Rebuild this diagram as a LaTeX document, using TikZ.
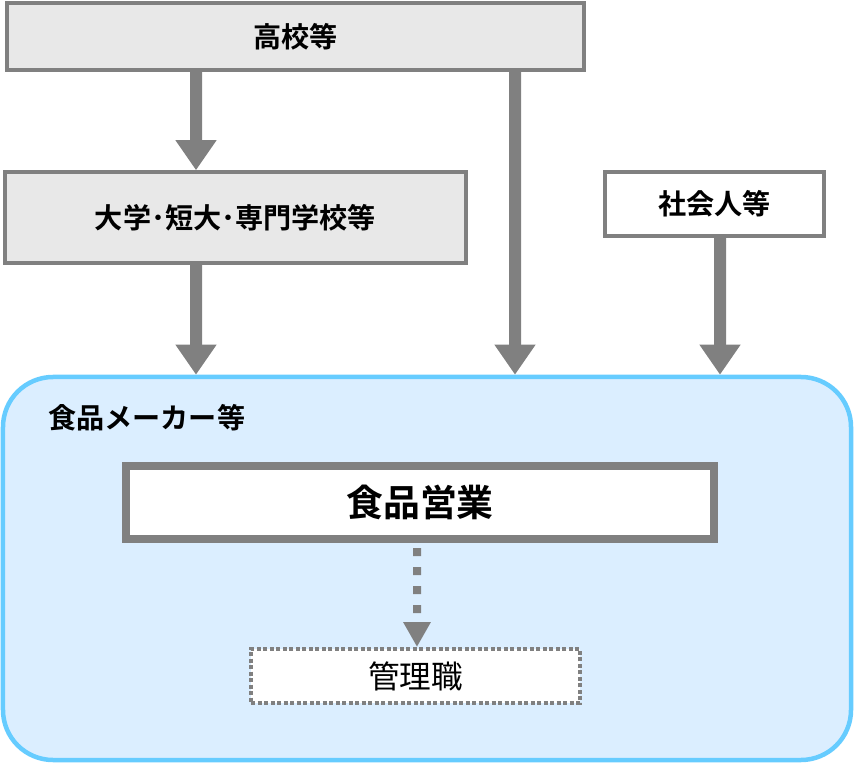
\documentclass[tikz,border=0pt]{standalone}
\usepackage{fontspec}
\setmainfont{Noto Sans CJK JP}[BoldFont={Noto Sans CJK JP Bold}]
\usepackage{tikz}
\usetikzlibrary{arrows.meta,positioning,calc}
\definecolor{boxgray}{RGB}{128,128,128}
\definecolor{boxfill}{RGB}{232,232,232}
\definecolor{makerblue}{RGB}{102,204,255}
\definecolor{makerfill}{RGB}{219,238,255}

\begin{document}
\begin{tikzpicture}[
    school/.style={rectangle, draw=boxgray, line width=0.07cm, fill=boxfill, font=\fontsize{16}{18}\selectfont\bfseries},
    plain/.style={rectangle, draw=boxgray, line width=0.07cm, fill=white, font=\fontsize{16}{18}\selectfont\bfseries},
    flow/.style={draw=boxgray, line width=0.24cm, -{Triangle[width=0.78cm,length=0.6cm]}},
    stepflow/.style={draw=boxgray, line width=0.16cm, dash pattern=on 0.16cm off 0.22cm, -{Triangle[width=0.52cm,length=0.5cm]}}
]
\useasboundingbox (0,0) rectangle (17.12,-15.28);
% Nodes
\node[school, minimum width=11.54cm, minimum height=1.34cm] (koukou) at (5.91, -0.73) {高校等};
\node[school, minimum width=9.22cm, minimum height=1.82cm] (daigaku) at (4.71, -4.35) {大学･短大･専門学校等};
\node[plain, minimum width=4.38cm, minimum height=1.28cm] (shakai) at (14.29, -4.08) {社会人等};
\node[rectangle, rounded corners=1cm, draw=makerblue, line width=0.09cm, fill=makerfill, minimum width=16.96cm, minimum height=7.66cm] (maker) at (8.54, -11.37) {};
\node[anchor=west, inner sep=0pt, font=\fontsize{16}{18}\selectfont\bfseries] (makerlabel) at (0.96, -8.36) {食品メーカー等};
\node[rectangle, draw=boxgray, line width=0.16cm, fill=white, minimum width=11.76cm, minimum height=1.46cm, font=\fontsize{21}{24}\selectfont\bfseries] (eigyou) at (8.40, -10.05) {食品営業};
\node[rectangle, draw=boxgray, line width=0.08cm, dash pattern=on 0.08cm off 0.05cm, fill=white, minimum width=6.58cm, minimum height=1.08cm, font=\fontsize{18}{20}\selectfont] (kanri) at (8.31, -13.52) {管理職};

% Edges
\draw[flow] ([xshift=-1.99cm]koukou.south) -- ([xshift=-0.79cm]daigaku.north);
\draw[flow] ([xshift=-0.79cm]daigaku.south) -- ([xshift=-4.62cm]maker.north);
\draw[flow] ([xshift=4.39cm]koukou.south) -- ([xshift=1.76cm]maker.north);
\draw[flow] ([xshift=0.11cm]shakai.south) -- ([xshift=5.86cm]maker.north);
\draw[stepflow, shorten <=0.1cm] ([xshift=-0.06cm]eigyou.south) -- ([xshift=0.03cm]kanri.north);
\end{tikzpicture}
\end{document}
